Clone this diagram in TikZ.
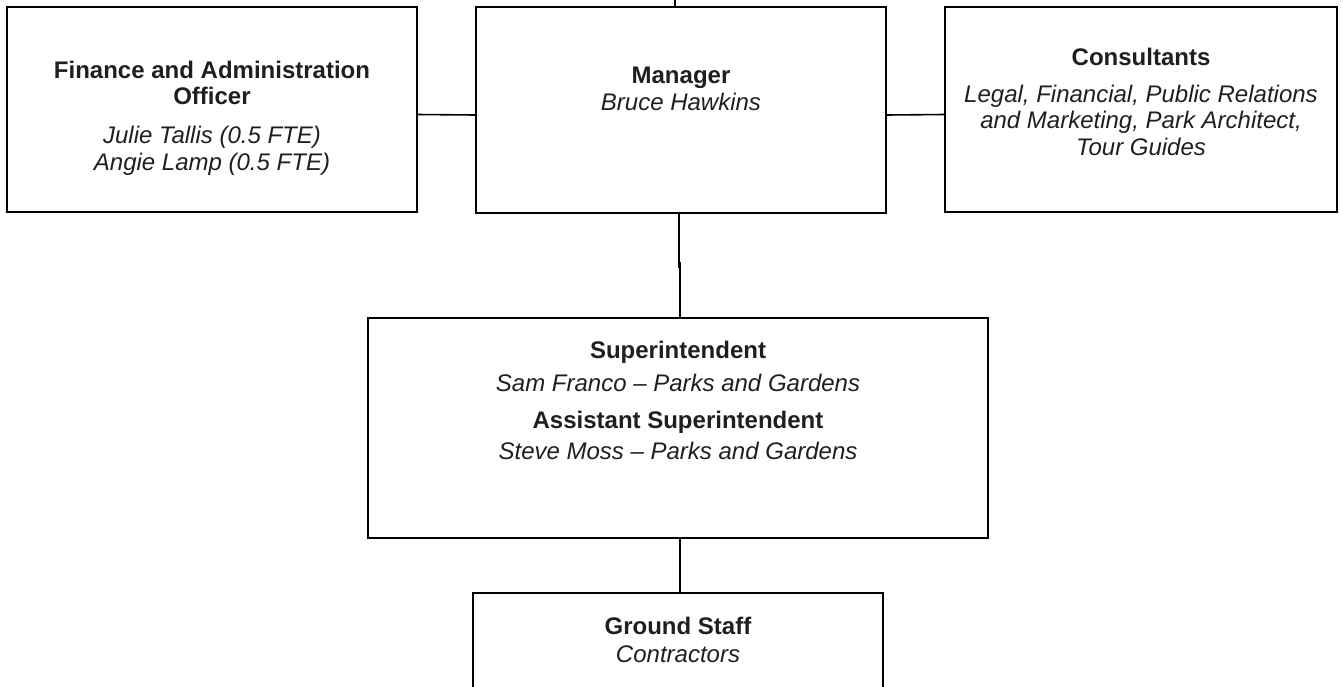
\documentclass[tikz,border=0pt]{standalone}
\usepackage{fontspec}
\setmainfont{Liberation Sans}
\begin{document}
\begin{tikzpicture}
[x=1pt,y=-1pt,
 orgbox/.style={draw,line width=1.6pt,rectangle,anchor=north west,inner sep=0pt,outer sep=0pt},
 orgtext/.style={align=center,anchor=base,inner sep=0pt,text=black!88,font=\fontsize{24}{27}\selectfont},
 linedecorate/.style={line width=1.6pt}]
%% page size and clipping
\useasboundingbox (0,0) rectangle (1343,686);
\clip (0,0) rectangle (1343,686);
%% the boxes
\node[orgbox,minimum width=410,minimum height=205] (fin) at (7,7) {};
\node[orgbox,minimum width=410,minimum height=206] (mgr) at (476,7) {};
\node[orgbox,minimum width=392,minimum height=205] (cons) at (945,7) {};
\node[orgbox,minimum width=620,minimum height=220] (sup) at (368,318) {};
\node[orgbox,minimum width=410,minimum height=140] (gnd) at (473,593) {};
%% the texts (placed by the baseline of their last line)
\node[orgtext] (fintext) at (212,170) {\textbf{Finance and Administration}\\[-1pt]
  \textbf{Officer}\\[12pt]\textit{Julie Tallis (0.5 FTE)}\\\textit{Angie Lamp (0.5 FTE)}};
\node[orgtext] (mgrtext) at (681,110) {\textbf{Manager}\\\textit{Bruce Hawkins}};
\node[orgtext] (constext) at (1141,155) {\textbf{Consultants}\\[10pt]
  \textit{Legal, Financial, Public Relations}\\[-1pt]
  \textit{and Marketing, Park Architect,}\\\textit{Tour Guides}};
\node[orgtext] (suptext) at (678,459) {\textbf{Superintendent}\\[6pt]
  \textit{Sam Franco – Parks and Gardens}\\[10pt]\textbf{Assistant Superintendent}\\[4pt]
  \textit{Steve Moss – Parks and Gardens}};
\node[orgtext] (gndtext) at (678,662) {\textbf{Ground Staff}\\[1pt]\textit{Contractors}};
%% the connectors
\coordinate (top) at (675,0);
\draw[linedecorate] (top) -- (top |- mgr.north);
\draw[linedecorate] ([yshift=-5]fin.east) -- ([yshift=-5]mgr.west);
\draw[linedecorate] ([yshift=-5]mgr.east) -- ([yshift=-5]cons.west);
\draw[linedecorate] ([xshift=-2]mgr.south) -- ++(0,55);
\draw[linedecorate] ([xshift=2]sup.north) -- ++(0,-56);
\draw[linedecorate] ([xshift=2]sup.south) -- ([xshift=2]sup.south |- gnd.north);
\end{tikzpicture}
\end{document}
